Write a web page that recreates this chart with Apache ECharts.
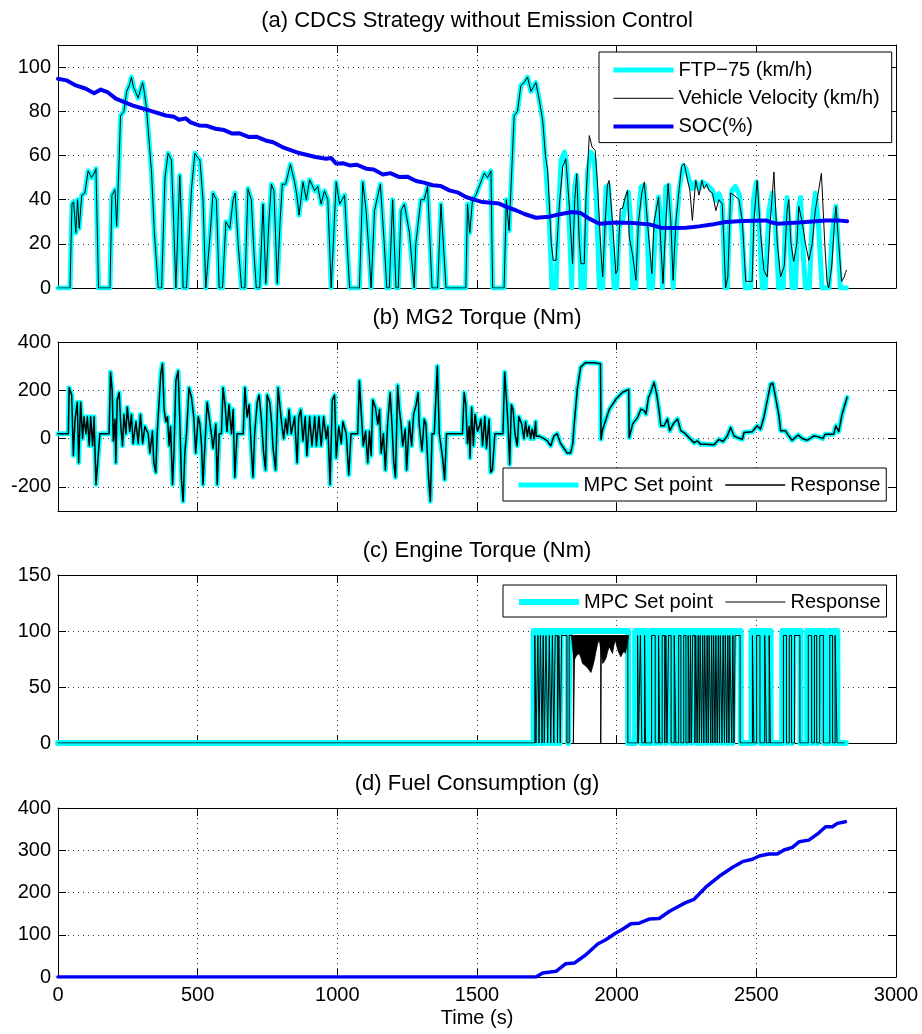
<!DOCTYPE html>
<html><head><meta charset="utf-8">
<script src="https://cdn.jsdelivr.net/npm/echarts@6/dist/echarts.min.js"></script>
<style>html,body{margin:0;padding:0;background:#fff}#c{width:922px;height:1034px}</style>
</head><body><div id="c"></div>
<script>
// ---------- data (time in s, value) ----------
const panelTitles = ['(a) CDCS Strategy without Emission Control', '(b) MG2 Torque (Nm)', '(c) Engine Torque (Nm)', '(d) Fuel Consumption (g)'];
const xTickStep = 500;

// FTP-75 reference and vehicle velocity coincide up to ~1735 s
const speedShared = [[0,0],[43,0],[50,38],[56,39],[64,25],[70,40],[76,27],[85,42],[96,43],[108,53],[120,50],[130,52],[136,54],[145,0],[186,0],[193,42],[204,44.5],[210,28],[218,55],[224,78],[236,80],[246,89],[256,92],[263,95.5],[270,91],[277,89],[287,86],[298,91],[303,93],[310,88],[317,81],[327,65],[335,52],[345,25],[359,0],[371,0],[378,30],[383,50],[394,61],[406,58],[414,30],[422,0],[430,30],[436,51],[442,30],[448,0],[460,0],[470,25],[478,45],[490,61],[500,59],[508,58],[519,40],[529,0],[545,25],[555,43],[567,40],[577,0],[589,0],[601,30],[615,27],[627,40],[634,43],[645,20],[657,0],[669,0],[680,45],[692,40],[702,15],[710,0],[722,0],[734,38],[744,2],[755,30],[764,47],[773,44],[785,2],[795,30],[803,47],[815,47],[832,56],[847,48],[855,42],[863,33],[877,48],[889,40],[901,49],[919,44],[930,46],[942,38],[954,44],[966,40],[978,0],[984,0],[996,48],[1008,38],[1026,42],[1035,20],[1044,0],[1079,0],[1091,48],[1103,35],[1115,13],[1121,0],[1133,35],[1154,47],[1168,20],[1177,0],[1186,0],[1198,40],[1210,0],[1218,0],[1228,35],[1240,38],[1258,25],[1275,0],[1281,20],[1299,40],[1311,40],[1323,46],[1339,0],[1359,0],[1371,38],[1389,0],[1460,0],[1466,38],[1474,25],[1484,40],[1496,42],[1514,48],[1526,52],[1538,50],[1550,53],[1553,25],[1556,0],[1597,0],[1605,40],[1615,26],[1633,78],[1645,80],[1657,91.7],[1669,93],[1681,95.5],[1693,89],[1711,93],[1723,85],[1735,76]];
const ftpTail = [[1747,53],[1759,31],[1768,0],[1783,0],[1790,30],[1801,58],[1813,61.5],[1821,56],[1830,30],[1839,0],[1845,30],[1850,46],[1857,51],[1864,38],[1872,0],[1884,0],[1896,53],[1908,61.5],[1920,58.5],[1928,38],[1938,0],[1950,0],[1962,45.7],[1971,46.5],[1985,15],[1991,0],[2000,0],[2009,27.6],[2021,30.6],[2031,38],[2042,43.4],[2050,30],[2057,0],[2069,0],[2080,35],[2087,45.7],[2099,46.5],[2108,30],[2116,0],[2128,0],[2140,30],[2150,41.2],[2158,30],[2164,0],[2170,0],[2176,45.7],[2186,46.5],[2194,30],[2202,0],[2208,0],[2215,30],[2224,45],[2238,55.5],[2248,54],[2260,48.7],[2271,45],[2283,48],[2295,45],[2307,48],[2325,46.5],[2343,44.2],[2355,39.7],[2366,42.7],[2378,38],[2383,20],[2388,0],[2396,0],[2404,30],[2412,44],[2425,46],[2440,42],[2452,20],[2460,0],[2480,0],[2490,40],[2500,48],[2510,30],[2521,0],[2532,0],[2545,35],[2557,43],[2568,30],[2580,0],[2596,0],[2604,30],[2610,41],[2620,25],[2628,0],[2640,0],[2650,35],[2658,41],[2668,15],[2676,0],[2690,0],[2700,30],[2711,43],[2722,30],[2735,0],[2760,0],[2772,25],[2785,37],[2793,20],[2801,0],[2822,0]];
const vehicleTail = [[1745,60],[1753,53],[1760,35],[1766,20],[1773,12.5],[1783,12.5],[1795,38],[1807,55],[1818,58.5],[1830,38],[1842,11],[1850,40],[1857,51.7],[1866,21.6],[1872,11],[1884,11],[1890,40],[1902,69],[1912,63.8],[1923,62.3],[1932,45.7],[1944,15.5],[1950,5],[1959,30],[1967,46.5],[1973,48.7],[1985,30],[1997,6.5],[2003,8],[2013,35.9],[2021,36],[2031,41.2],[2039,44.2],[2045,23],[2057,15],[2069,3.5],[2078,30],[2090,43],[2099,48],[2110,30],[2126,6.5],[2134,30],[2150,41.2],[2158,20],[2166,2],[2176,30],[2184,47.2],[2194,30],[2202,3.5],[2212,30],[2224,45],[2232,54.8],[2242,56.3],[2254,48.7],[2262,44.2],[2271,30.6],[2283,48.7],[2295,42],[2305,48.7],[2313,45],[2322,47],[2331,44],[2343,43],[2355,35],[2366,40],[2378,38],[2384,20],[2390,0],[2398,5],[2408,43],[2420,42],[2438,40],[2450,30],[2462,3],[2485,3],[2491,30],[2503,48.7],[2515,25],[2527,8],[2539,5],[2550,30],[2563,52.5],[2575,20],[2587,5],[2600,10],[2610,35],[2616,40],[2624,20],[2634,12],[2645,20],[2652,37],[2664,30],[2676,20],[2688,12.5],[2700,20],[2711,35],[2724,45],[2733,52],[2745,20],[2753,3],[2759,0],[2770,10],[2780,30],[2785,37],[2795,20],[2805,3],[2815,5],[2819,7],[2823,8]];
const socPercent = [[0,94.7],[30,94],[64,91.7],[100,90.2],[129,88.2],[153,89.8],[177,88.7],[207,85.7],[266,82.7],[326,80.4],[386,78.1],[415,77.5],[433,76.2],[457,76.8],[475,75],[505,73.6],[530,73.5],[564,72.1],[595,71.5],[624,69.9],[650,70],[684,68.3],[710,68.5],[743,66.8],[770,66],[803,63.8],[863,61.1],[922,59.3],[960,58.5],[978,58.8],[996,56.3],[1020,56.5],[1044,55.5],[1070,55.8],[1103,54],[1130,53.6],[1163,51.4],[1190,52],[1222,50.2],[1250,50.4],[1282,48.4],[1310,47.7],[1341,46.5],[1370,46.2],[1401,44.2],[1430,43.3],[1460,41.2],[1490,40],[1520,38.9],[1550,38.6],[1579,38.2],[1610,36.5],[1639,35.2],[1670,33.5],[1711,31.8],[1758,32.3],[1800,33.5],[1841,34.4],[1870,34],[1900,31.5],[1938,29.1],[1995,29.6],[2057,29.4],[2117,28.8],[2158,27.3],[2200,27.2],[2248,27.3],[2295,27.9],[2340,28.7],[2390,29.9],[2450,30.3],[2533,30.6],[2560,29.5],[2575,29.1],[2652,29.6],[2747,30.6],[2800,30.5],[2825,30.2]];

// MG2 torque: set point and response coincide
const mg2Torque = [[0,20],[37,20],[40,210],[49,180],[55,-70],[61,80],[69,150],[74,-100],[81,150],[88,0],[93,90],[100,20],[105,90],[112,-30],[117,90],[124,-30],[129,90],[136,-190],[142,-100],[150,20],[183,20],[188,275],[194,200],[198,-10],[204,80],[207,-100],[212,160],[219,190],[225,50],[231,-30],[236,100],[243,20],[248,130],[257,30],[263,100],[269,-20],[279,70],[287,-20],[295,100],[303,-20],[311,50],[323,20],[329,-60],[338,30],[343,-100],[350,-140],[355,20],[362,20],[368,270],[374,310],[380,120],[386,70],[392,90],[398,-30],[403,50],[410,-190],[415,-60],[422,240],[430,280],[436,80],[442,-170],[448,-260],[454,-60],[460,20],[469,210],[478,170],[486,90],[493,-60],[502,90],[508,60],[514,-30],[519,-190],[528,20],[534,150],[541,150],[549,20],[555,-40],[565,60],[570,-190],[577,20],[585,20],[591,210],[598,140],[605,30],[612,140],[621,20],[627,120],[633,-160],[641,20],[663,20],[669,210],[677,90],[684,140],[692,-40],[698,-160],[704,20],[713,150],[720,180],[728,80],[736,-60],[743,-130],[749,180],[758,150],[765,60],[770,-40],[779,-130],[788,210],[794,140],[801,60],[808,0],[815,80],[821,20],[827,120],[835,20],[847,90],[856,-100],[862,90],[869,120],[877,-10],[885,90],[891,-70],[901,90],[909,-30],[919,90],[925,-30],[934,90],[942,-30],[951,90],[960,0],[966,50],[974,-190],[982,160],[990,180],[996,-80],[1005,50],[1014,-20],[1020,70],[1032,20],[1041,-150],[1049,20],[1073,20],[1079,240],[1086,100],[1093,-30],[1101,30],[1109,-100],[1115,30],[1121,-70],[1127,160],[1136,130],[1145,60],[1151,120],[1157,-60],[1165,20],[1172,-130],[1180,60],[1189,190],[1196,50],[1202,-100],[1208,-160],[1216,220],[1222,120],[1228,60],[1234,-30],[1243,40],[1248,-130],[1258,70],[1266,-30],[1273,100],[1282,140],[1289,190],[1293,60],[1303,-50],[1311,80],[1317,60],[1327,-170],[1333,-260],[1339,20],[1347,20],[1358,300],[1365,20],[1377,-80],[1384,-170],[1391,20],[1448,20],[1454,190],[1460,140],[1466,-20],[1472,50],[1475,-80],[1481,130],[1487,-30],[1493,100],[1502,30],[1508,50],[1514,80],[1520,-30],[1528,90],[1534,-40],[1543,80],[1549,-140],[1555,-130],[1564,20],[1593,20],[1599,275],[1605,170],[1611,60],[1617,-107],[1623,140],[1629,120],[1636,20],[1644,-30],[1650,90],[1660,60],[1668,0],[1674,70],[1680,10],[1686,50],[1692,0],[1698,40],[1704,0],[1710,70],[1712,10],[1722,10],[1740,0],[1752,-10],[1764,-30],[1775,10],[1787,20],[1799,-20],[1811,-40],[1823,-60],[1835,-60],[1843,-20],[1847,46],[1859,205],[1871,296],[1888,314],[1920,314],[1942,310],[1944,-3],[1950,39],[1974,122],[1998,164],[2021,192],[2043,203],[2045,4],[2051,11],[2057,60],[2075,88],[2087,122],[2099,115],[2105,101],[2114,171],[2122,192],[2134,233],[2143,185],[2152,115],[2158,53],[2170,53],[2182,81],[2190,32],[2202,60],[2218,81],[2230,32],[2241,25],[2259,4],[2277,-17],[2289,-10],[2301,-24],[2319,-24],[2349,-26],[2366,-3],[2381,-12],[2396,11],[2408,46],[2420,11],[2432,4],[2450,-3],[2456,25],[2485,28],[2503,53],[2515,39],[2527,88],[2539,157],[2551,226],[2559,229],[2569,171],[2581,94],[2587,32],[2604,32],[2616,11],[2628,-7],[2650,15],[2664,0],[2682,-7],[2706,11],[2723,7],[2738,0],[2747,18],[2777,18],[2785,53],[2795,29],[2807,101],[2825,171]];

// Engine torque: on-intervals [start, end] of the set point (100 Nm) and of the response (~96 Nm)
const engSetLevel = 100;
const engSetOn = [[1703,1712],[1715,1730],[1733,1738],[1744,1750],[1756,1762],[1767,1772],[1777,1786],[1790,1796],[1800,1826],[1832,2041],[2066,2088],[2094,2098],[2104,2108],[2122,2140],[2146,2156],[2160,2176],[2182,2198],[2203,2214],[2219,2232],[2237,2250],[2256,2268],[2273,2288],[2294,2304],[2310,2322],[2328,2340],[2346,2360],[2366,2378],[2384,2396],[2402,2414],[2420,2444],[2483,2493],[2498,2515],[2527,2538],[2543,2551],[2593,2610],[2615,2628],[2634,2658],[2682,2700],[2705,2718],[2724,2742],[2760,2775],[2779,2790]];
const engSetEnd = 2820;
const engRespLevel = 96;
const engRespOn = [[1707,1711],[1718,1722],[1727,1733],[1737,1741],[1747,1753],[1759,1764],[1770,1775],[1780,1788],[1793,1798],[1803,1822],[1830,1845],[1850,1943],[1945,2040],[2075,2078],[2085,2090],[2100,2103],[2125,2138],[2150,2154],[2163,2172],[2176,2180],[2186,2195],[2206,2212],[2222,2230],[2240,2248],[2256,2262],[2264,2268],[2272,2280],[2283,2288],[2292,2296],[2299,2304],[2308,2312],[2315,2321],[2324,2328],[2331,2337],[2340,2344],[2347,2352],[2355,2360],[2364,2368],[2371,2377],[2381,2386],[2389,2394],[2398,2402],[2405,2412],[2416,2420],[2424,2442],[2486,2491],[2501,2513],[2530,2536],[2546,2550],[2597,2608],[2618,2626],[2637,2656],[2686,2698],[2708,2716],[2727,2740],[2763,2773],[2782,2789]];
const engRespEnd = 2815;
// lower envelope of the dense response oscillation (filled up to the response level)
const engRespBand = [[1838,96],[1842,85],[1848,74],[1856,78],[1866,80],[1872,76],[1878,71],[1888,69],[1896,67],[1902,65],[1908,63],[1914,68],[1920,74],[1926,82],[1932,89],[1938,92],[1944,82],[1950,71],[1956,73],[1962,76],[1968,82],[1973,86],[1979,83],[1985,80],[1990,87],[1995,92],[2000,87],[2003,84],[2009,80],[2015,77],[2021,80],[2027,82],[2031,80],[2035,81],[2039,90],[2043,96]];

const fuelUsed = [[0,0],[1711,0],[1735,9.4],[1783,13.4],[1818,31.5],[1848,33],[1890,52.7],[1932,78],[1961,88],[1997,104],[2021,113],[2051,126],[2081,127.5],[2116,137],[2152,138.5],[2188,155],[2224,168],[2247,176],[2277,184],[2319,212.5],[2366,237.7],[2414,259],[2450,273],[2486,278.6],[2510,286.5],[2545,291],[2575,291],[2599,300.6],[2629,307],[2653,320],[2688,324],[2718,338],[2748,355.7],[2772,355.7],[2790,363.6],[2819,367.5]];

// ---------- build helpers ----------
function pulses(intervals, level, end) {
  const out = [[0, 0]];
  intervals.forEach(([a, b]) => { out.push([a, 0], [a, level], [b, level], [b, 0]); });
  out.push([end, 0]);
  return out;
}

const FONT = '"Liberation Sans", Arial, Helvetica, sans-serif';
const grids = [
  { left: 58, right: 26, top: 45, height: 243 },
  { left: 58, right: 26, top: 342, height: 169 },
  { left: 58, right: 26, top: 575, height: 168 },
  { left: 58, right: 26, top: 808, height: 169 }
];
const yRanges = [
  { min: 0, max: 110, interval: 20, shownMax: 100 },
  { min: -300, max: 400, custom: [-200, 0, 200, 400] },
  { min: 0, max: 150, interval: 50 },
  { min: 0, max: 400, interval: 100 }
];
const dotted = { color: '#333', type: [1, 4], width: 1 };
const blackLine = { show: true, onZero: false, lineStyle: { color: '#000', width: 1 } };
const tick = { show: true, inside: true, length: 8, lineStyle: { color: '#000', width: 1 } };

const xAxis = [], yAxis = [];
grids.forEach((g, i) => {
  const last = i === grids.length - 1;
  xAxis.push({
    type: 'value', gridIndex: i, position: 'bottom', min: 0, max: 3000, interval: xTickStep,
    axisLine: blackLine, axisTick: tick,
    axisLabel: { show: last, color: '#000', fontSize: 20, fontFamily: FONT, margin: 8, formatter: v => String(v) },
    splitLine: { show: true, lineStyle: dotted },
    name: last ? 'Time (s)' : '', nameLocation: 'middle', nameGap: 31,
    nameTextStyle: { color: '#000', fontSize: 20, fontFamily: FONT }
  });
  xAxis.push({
    type: 'value', gridIndex: i, position: 'top', min: 0, max: 3000, interval: xTickStep,
    axisLine: blackLine, axisTick: tick, axisLabel: { show: false }, splitLine: { show: false },
    name: panelTitles[i], nameLocation: 'middle', nameGap: 13,
    nameTextStyle: { color: '#000', fontSize: 22, fontFamily: FONT }
  });
  const r = yRanges[i];
  const base = { type: 'value', gridIndex: i, min: r.min, max: r.max };
  if (r.interval) base.interval = r.interval;
  const tk = Object.assign({}, tick);
  if (r.custom) tk.customValues = r.custom;
  const lab = { color: '#000', fontSize: 20, fontFamily: FONT, margin: 7,
    formatter: v => (r.shownMax !== undefined && v > r.shownMax) ? '' : String(v) };
  if (r.custom) lab.customValues = r.custom;
  yAxis.push(Object.assign({}, base, {
    position: 'left', axisLine: blackLine, axisTick: tk, axisLabel: lab,
    splitLine: { show: true, lineStyle: dotted }
  }));
  yAxis.push(Object.assign({}, base, {
    position: 'right', axisLine: blackLine, axisTick: tk, axisLabel: { show: false },
    splitLine: { show: false }
  }));
});

function line(name, data, gi, color, width, z) {
  return {
    type: 'line', name, data, xAxisIndex: 2 * gi, yAxisIndex: 2 * gi,
    showSymbol: false, symbol: 'none', animation: false, z: z || 2,
    lineStyle: { color, width, cap: 'round', join: 'round' }, itemStyle: { color }
  };
}

const series = [
  line('FTP\u221275 (km/h)', speedShared.concat(ftpTail), 0, '#00FFFF', 5, 2),
  line('Vehicle Velocity (km/h)', speedShared.concat(vehicleTail), 0, '#000000', 1, 3),
  line('SOC(%)', socPercent, 0, '#0000F5', 4, 4),
  line('MPC Set point', mg2Torque, 1, '#00FFFF', 5, 2),
  line('Response', mg2Torque, 1, '#000000', 1.5, 3),
  line('MPC Set point\u200B', pulses(engSetOn, engSetLevel, engSetEnd), 2, '#00FFFF', 6, 2),
  line('Response\u200B', pulses(engRespOn, engRespLevel, engRespEnd), 2, '#000000', 1, 3),
  Object.assign(line('respBand', engRespBand, 2, '#000000', 0.8, 3), {
    areaStyle: { color: '#000', opacity: 1, origin: engRespLevel }
  }),
  line('Fuel', fuelUsed, 3, '#0000F5', 3.5, 2)
];

const legendBase = {
  selectedMode: false, backgroundColor: '#fff', borderColor: '#000', borderWidth: 1,
  itemWidth: 60, itemHeight: 22,
  itemStyle: { opacity: 0, borderWidth: 0 },
  lineStyle: { width: 'inherit', cap: 'butt' },
  textStyle: { color: '#000', fontSize: 20, fontFamily: FONT, lineHeight: 22 }
};
const legend = [
  Object.assign({}, legendBase, { data: ['FTP\u221275 (km/h)', 'Vehicle Velocity (km/h)', 'SOC(%)'],
    orient: 'vertical', left: 599, top: 52, itemGap: 6.3, padding: [7, 12, 5, 12] }),
  Object.assign({}, legendBase, { data: ['MPC Set point', 'Response'],
    orient: 'horizontal', left: 503, top: 468, itemGap: 12, padding: [6, 6, 5, 13] }),
  Object.assign({}, legendBase, { data: ['MPC Set point\u200B', 'Response\u200B'],
    orient: 'horizontal', left: 503, top: 585, itemGap: 12, padding: [6, 6, 4, 13] })
];

const chart = echarts.init(document.getElementById('c'), null, { renderer: 'canvas' });
chart.setOption({
  backgroundColor: '#fff', animation: false,
  grid: grids, xAxis, yAxis, series, legend,
  textStyle: { fontFamily: FONT }
});
</script></body></html>
